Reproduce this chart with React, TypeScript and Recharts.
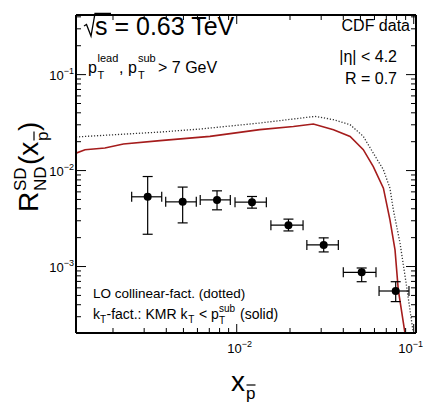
import React from 'react';
import { ComposedChart, Line, Scatter, XAxis, YAxis, ErrorBar } from 'recharts';

// axis ranges (log scales)
const xRange = [1.236e-3, 0.103];
const yRange = [2.03e-4, 0.418];

const xTicks = [0.002, 0.003, 0.004, 0.005, 0.006, 0.007, 0.008, 0.009, 0.01,
  0.02, 0.03, 0.04, 0.05, 0.06, 0.07, 0.08, 0.09, 0.1];
const yTicks = [0.0003, 0.0004, 0.0005, 0.0006, 0.0007, 0.0008, 0.0009, 0.001,
  0.002, 0.003, 0.004, 0.005, 0.006, 0.007, 0.008, 0.009, 0.01,
  0.02, 0.03, 0.04, 0.05, 0.06, 0.07, 0.08, 0.09, 0.1, 0.2, 0.3, 0.4];

// CDF data
const cdfX = [3.14e-3, 4.95e-3, 7.74e-3, 1.22e-2, 1.96e-2, 3.10e-2, 5.08e-2, 7.91e-2];
const cdfXLow = [2.55e-3, 3.97e-3, 6.22e-3, 9.78e-3, 1.56e-2, 2.49e-2, 4.00e-2, 6.37e-2];
const cdfXHigh = [3.77e-3, 5.91e-3, 9.20e-3, 1.47e-2, 2.37e-2, 3.75e-2, 6.12e-2, 9.40e-2];
const cdfY = [5.33e-3, 4.72e-3, 4.95e-3, 4.69e-3, 2.70e-3, 1.68e-3, 8.71e-4, 5.56e-4];
const cdfYLow = [2.17e-3, 2.85e-3, 3.90e-3, 4.06e-3, 2.35e-3, 1.42e-3, 6.95e-4, 4.31e-4];
const cdfYHigh = [8.67e-3, 6.73e-3, 6.15e-3, 5.37e-3, 3.12e-3, 1.99e-3, 9.66e-4, 6.95e-4];

// kT-factorization, KMR (solid)
const ktX = [1.236e-3, 1.39e-3, 1.80e-3, 2.29e-3, 3.69e-3, 7.06e-3, 1.35e-2, 2.09e-2, 2.71e-2,
  3.52e-2, 4.37e-2, 5.19e-2, 5.91e-2, 6.74e-2, 7.34e-2, 7.84e-2, 8.18e-2, 8.93e-2];
const ktY = [1.52e-2, 1.65e-2, 1.72e-2, 1.89e-2, 2.05e-2, 2.27e-2, 2.67e-2, 2.88e-2, 3.06e-2,
  2.67e-2, 2.27e-2, 1.65e-2, 1.10e-2, 6.56e-3, 3.06e-3, 1.49e-3, 5.70e-4, 2.01e-4];

// LO collinear factorization (dotted)
const loX = [1.236e-3, 3.69e-3, 6.21e-3, 1.35e-2, 2.77e-2, 3.52e-2, 4.37e-2, 5.19e-2,
  5.91e-2, 6.74e-2, 7.34e-2, 7.67e-2, 8.37e-2, 9.12e-2, 9.95e-2];
const loY = [2.24e-2, 2.52e-2, 2.71e-2, 3.13e-2, 3.67e-2, 3.39e-2, 3.01e-2, 2.27e-2,
  1.52e-2, 1.02e-2, 6.56e-3, 3.90e-3, 1.75e-3, 6.17e-4, 2.01e-4];

const cdfData = cdfX.map((x, i) => ({
  x,
  y: cdfY[i],
  ex: [x - cdfXLow[i], cdfXHigh[i] - x],
  ey: [cdfY[i] - cdfYLow[i], cdfYHigh[i] - cdfY[i]],
}));
const ktData = ktX.map((x, i) => ({ x, y: ktY[i] }));
const loData = loX.map((x, i) => ({ x, y: loY[i] }));

const FONT = '"Liberation Sans", Arial, Helvetica, sans-serif';

const isMajor = (v: number) => Math.abs(Math.log10(v) - Math.round(Math.log10(v))) < 1e-6;
const exponent = (v: number) => '\u2212' + Math.abs(Math.round(Math.log10(v)));

const BottomTick = (props: any) => {
  const { x, y, payload } = props;
  const major = isMajor(payload.value);
  const shift = payload.value >= 0.1 ? -3 : 3;
  return (
    <g>
      <line x1={x} x2={x} y1={y} y2={y - (major ? 9 : 5)} stroke="#000" strokeWidth={1} />
      {major && (
        <text x={x + shift} y={y + 20} textAnchor="middle" fontFamily={FONT} fontSize={13} fill="#000">
          10<tspan dy={-6} fontSize={9}>{exponent(payload.value)}</tspan>
        </text>
      )}
    </g>
  );
};

const TopTick = (props: any) => {
  const { x, y, payload } = props;
  const major = isMajor(payload.value);
  return <line x1={x} x2={x} y1={y} y2={y + (major ? 9 : 5)} stroke="#000" strokeWidth={1} />;
};

const LeftTick = (props: any) => {
  const { x, y, payload } = props;
  const major = isMajor(payload.value);
  return (
    <g>
      <line x1={x} x2={x + (major ? 10 : 5)} y1={y} y2={y} stroke="#000" strokeWidth={1} />
      {major && (
        <text x={x - 2} y={y + 5} textAnchor="end" fontFamily={FONT} fontSize={13} fill="#000">
          10<tspan dy={-6} fontSize={9}>{exponent(payload.value)}</tspan>
        </text>
      )}
    </g>
  );
};

const RightTick = (props: any) => {
  const { x, y, payload } = props;
  const major = isMajor(payload.value);
  return <line x1={x} x2={x - (major ? 10 : 5)} y1={y} y2={y} stroke="#000" strokeWidth={1} />;
};

const Dot = (props: any) => <circle cx={props.cx} cy={props.cy} r={4} fill="#000" />;

const frame = { stroke: '#000', strokeWidth: 2 };

export default function App() {
  return (
    <div style={{ position: 'absolute', left: 0, top: 0, width: 425, height: 405, background: '#fff' }}>
      <ComposedChart width={425} height={405} margin={{ top: 14, right: 8, bottom: 0, left: 0 }}>
        <XAxis dataKey="x" type="number" scale="log" domain={xRange} allowDataOverflow
          ticks={xTicks} interval={0} tickSize={0} tickMargin={0} tickLine={false}
          axisLine={frame} tick={<BottomTick />} height={72} />
        <XAxis xAxisId="top" orientation="top" dataKey="x" type="number" scale="log" domain={xRange}
          allowDataOverflow ticks={xTicks} interval={0} tickSize={0} tickMargin={0} tickLine={false}
          axisLine={frame} tick={<TopTick />} height={1} />
        <YAxis dataKey="y" type="number" scale="log" domain={yRange} allowDataOverflow
          ticks={yTicks} interval={0} tickSize={0} tickMargin={0} tickLine={false}
          axisLine={frame} tick={<LeftTick />} width={76} />
        <YAxis yAxisId="right" orientation="right" dataKey="y" type="number" scale="log" domain={yRange}
          allowDataOverflow ticks={yTicks} interval={0} tickSize={0} tickMargin={0} tickLine={false}
          axisLine={frame} tick={<RightTick />} width={1} />
        {/* invisible copy so the mirrored frame axes get drawn */}
        <Line data={loData} dataKey="y" xAxisId="top" yAxisId="right" stroke="none" dot={false}
          isAnimationActive={false} />
        <Line data={loData} dataKey="y" type="linear" stroke="#333" strokeWidth={1.3}
          strokeDasharray="1.2 1.8" dot={false} isAnimationActive={false} />
        <Line data={ktData} dataKey="y" type="linear" stroke="#a51c1c" strokeWidth={1.6}
          dot={false} isAnimationActive={false} />
        <Scatter data={cdfData} dataKey="y" shape={<Dot />} isAnimationActive={false}>
          <ErrorBar dataKey="ex" direction="x" width={5} stroke="#000" strokeWidth={1.2} />
          <ErrorBar dataKey="ey" direction="y" width={5} stroke="#000" strokeWidth={1.2} />
        </Scatter>
      </ComposedChart>
      <svg width={425} height={405} style={{ position: 'absolute', left: 0, top: 0, pointerEvents: 'none' }}
        fontFamily={FONT} fill="#000">
        {/* sqrt(s) */}
        <path d="M84,26 L86.5,24.5 L91,36 L95,13.5 L111,13.5" fill="none" stroke="#000" strokeWidth={1.3} />
        <text x={95} y={35} fontSize={25}>s = 0.63 TeV</text>

        <text x={88} y={73} fontSize={16}>p</text>
        <text x={97.5} y={62} fontSize={11}>lead</text>
        <text x={97.5} y={79} fontSize={11}>T</text>
        <text x={119} y={73} fontSize={16}>, p</text>
        <text x={138} y={62} fontSize={11}>sub</text>
        <text x={138} y={79} fontSize={11}>T</text>
        <text x={158} y={73} fontSize={16}>&gt; 7 GeV</text>

        <text x={410} y={31} fontSize={16} textAnchor="end">CDF data</text>
        <text x={397} y={62} fontSize={16} textAnchor="end">|η| &lt; 4.2</text>
        <text x={397} y={84} fontSize={16} textAnchor="end">R = 0.7</text>

        <text x={93} y={298} fontSize={13.5}>LO collinear-fact. (dotted)</text>
        <text x={93} y={319} fontSize={14}>k</text>
        <text x={100} y={323} fontSize={10}>T</text>
        <text x={106.5} y={319} fontSize={14}>-fact.: KMR k</text>
        <text x={188.3} y={323} fontSize={10}>T</text>
        <text x={199} y={319} fontSize={14}>&lt; p</text>
        <text x={219} y={312} fontSize={10}>sub</text>
        <text x={219} y={324} fontSize={10}>T</text>
        <text x={240} y={319} fontSize={14}>(solid)</text>

        {/* x axis title */}
        <text x={231} y={391} fontSize={28}>x</text>
        <text x={246} y={399} fontSize={17}>p</text>
        <line x1={246.5} x2={255.5} y1={385} y2={385} stroke="#000" strokeWidth={1.2} />

        {/* y axis title */}
        <g transform="translate(38, 212) rotate(-90)">
          <text x={0} y={0} fontSize={28}>R</text>
          <text x={21} y={-12} fontSize={17}>SD</text>
          <text x={21} y={8} fontSize={17}>ND</text>
          <text x={47} y={0} fontSize={28}>(x</text>
          <text x={71} y={10} fontSize={17}>p</text>
          <line x1={71.5} x2={80.5} y1={-4} y2={-4} stroke="#000" strokeWidth={1.2} />
          <text x={81} y={0} fontSize={28}>)</text>
        </g>
      </svg>
    </div>
  );
}
